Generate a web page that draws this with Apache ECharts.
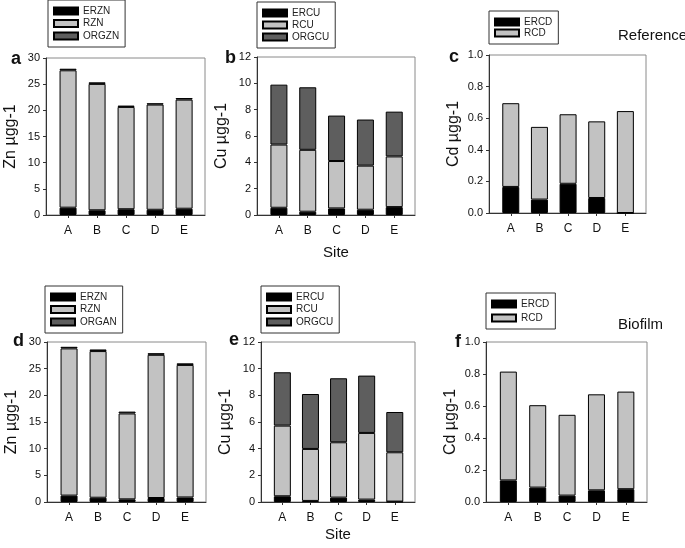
<!DOCTYPE html>
<html><head><meta charset="utf-8">
<script src="https://cdn.jsdelivr.net/npm/echarts@6/dist/echarts.min.js"></script>
<style>html,body{margin:0;padding:0;background:#fff}#c{width:685px;height:548px}</style>
</head><body><div id="c"></div>
<script>
const sites = ['A','B','C','D','E'];
// Reference
const refERZN = [1.4, 0.9, 1.1, 1.0, 1.2];
const refRZN = [26.25, 24.15, 19.55, 20.1, 20.85];
const refORGZN = [0.3, 0.3, 0.25, 0.25, 0.3];
const refERCU = [0.55, 0.25, 0.5, 0.4, 0.6];
const refRCU = [4.8, 4.7, 3.6, 3.35, 3.85];
const refORGCU = [4.55, 4.75, 3.45, 3.5, 3.4];
const refERCD = [0.165, 0.085, 0.185, 0.095, 0];
const refRCD = [0.53, 0.46, 0.44, 0.485, 0.645];
// Biofilm
const bioERZN = [1.2, 0.8, 0.5, 0.75, 0.85];
const bioRZN = [27.6, 27.5, 16.1, 26.85, 24.85];
const bioORGAN = [0.3, 0.3, 0.35, 0.3, 0.3];
const bioERCU = [0.43, 0.08, 0.33, 0.18, 0.03];
const bioRCU = [5.3, 3.9, 4.15, 5.0, 3.7];
const bioORGCU = [4.0, 4.12, 4.8, 4.3, 3.02];
const bioERCD = [0.135, 0.09, 0.04, 0.073, 0.08];
const bioRCD = [0.68, 0.515, 0.505, 0.6, 0.61];
// axis ticks
const znTicks = [0, 5, 10, 15, 20, 25, 30];
const cuTicks = [0, 2, 4, 6, 8, 10, 12];
const cdTicks = [0, 0.2, 0.4, 0.6, 0.8, 1.0];

const FONT = 'Liberation Sans, Arial, sans-serif';
const colors = {ER: '#000000', R: '#c2c2c2', ORG: '#5e5e5e'};
// frame spans from -0.76 to 4.72 in category-center units
const PADL = 0.26, PADR = 0.22;

const panels = [
  {letter:'a', grid:{left:46, top:58, width:159, height:157}, ticks:znTicks, yname:'Zn µgg-1', dec:0,
   series:[['ERZN',refERZN,'ER'],['RZN',refRZN,'R'],['ORGZN',refORGZN,'ORG']],
   legend:{left:48, top:0, gap:0.5}, letterPos:[11,50]},
  {letter:'b', grid:{left:257, top:57, width:158, height:158}, ticks:cuTicks, yname:'Cu µgg-1', dec:0,
   series:[['ERCU',refERCU,'ER'],['RCU',refRCU,'R'],['ORGCU',refORGCU,'ORG']],
   legend:{left:257, top:2, gap:0}, letterPos:[225,49], site:true},
  {letter:'c', grid:{left:489, top:55, width:157, height:158}, ticks:cdTicks, yname:'Cd µgg-1', dec:1,
   series:[['ERCD',refERCD,'ER'],['RCD',refRCD,'R']],
   legend:{left:489, top:11, gap:-1}, letterPos:[449,48]},
  {letter:'d', grid:{left:47, top:342, width:159, height:160}, ticks:znTicks, yname:'Zn µgg-1', dec:0,
   series:[['ERZN',bioERZN,'ER'],['RZN',bioRZN,'R'],['ORGAN',bioORGAN,'ORG']],
   legend:{left:45, top:286, gap:0.5}, letterPos:[13,332]},
  {letter:'e', grid:{left:261, top:342, width:154, height:160}, ticks:cuTicks, yname:'Cu µgg-1', dec:0,
   series:[['ERCU',bioERCU,'ER'],['RCU',bioRCU,'R'],['ORGCU',bioORGCU,'ORG']],
   legend:{left:261, top:286, gap:0.5}, letterPos:[229,331], site:true},
  {letter:'f', grid:{left:486, top:342, width:161, height:160}, ticks:cdTicks, yname:'Cd µgg-1', dec:1,
   series:[['ERCD',bioERCD,'ER'],['RCD',bioRCD,'R']],
   legend:{left:486, top:293, gap:2}, letterPos:[455,333]}
];

const grid = [], xAxis = [], yAxis = [], series = [], legend = [], title = [];
panels.forEach((p, i) => {
  const g = p.grid;
  const unit = g.width / (5 + PADL + PADR);
  const tk = p.ticks;
  const ymin = tk[0], ymax = tk[tk.length-1], yint = tk[1]-tk[0];
  // outer frame grid (index 2i)
  grid.push({left:g.left, top:g.top, width:g.width, height:g.height, show:true, borderColor:'#8a8a8a', borderWidth:1});
  // inner bar grid (index 2i+1)
  grid.push({left:g.left + PADL*unit, top:g.top, width:5*unit, height:g.height});
  xAxis.push({
    type:'value', gridIndex:2*i, min:0, max:1, show:true,
    splitLine:{show:false}, axisTick:{show:false}, axisLabel:{show:false},
    axisLine:{show:true, onZero:false, lineStyle:{color:'#333', width:1}},
    name: p.site ? 'Site' : '', nameLocation:'middle', nameGap: i === 1 ? 30 : 25,
    nameTextStyle:{fontSize:15, color:'#111', fontFamily:FONT}
  });
  xAxis.push({
    type:'category', gridIndex:2*i+1, data:sites, boundaryGap:true,
    axisLine:{show:false},
    axisTick:{show:true, alignWithLabel:true, length:3, lineStyle:{color:'#333'}},
    axisLabel:{margin:10, fontSize:12, color:'#111', fontFamily:FONT}
  });
  yAxis.push({
    type:'value', gridIndex:2*i, min:ymin, max:ymax, interval:yint,
    splitLine:{show:false},
    axisLine:{show:true, lineStyle:{color:'#333', width:1}},
    axisTick:{show:true, length:3, lineStyle:{color:'#333'}},
    axisLabel:{margin:6, fontSize:11, color:'#111', fontFamily:FONT, formatter: v => v.toFixed(p.dec)},
    name:p.yname, nameLocation:'middle', nameRotate:90, nameGap:27,
    nameTextStyle:{fontSize:16, color:'#111', fontFamily:FONT}
  });
  yAxis.push({type:'value', gridIndex:2*i+1, min:ymin, max:ymax, interval:yint, show:false, splitLine:{show:false}});
  p.series.forEach(([name, vals, kind]) => {
    series.push({
      type:'bar', name, xAxisIndex:2*i+1, yAxisIndex:2*i+1, stack:'s'+i, barWidth:17,
      itemStyle:{color:colors[kind], borderColor:'#000', borderWidth:1},
      data: vals, animation:false
    });
  });
  legend.push({
    left:p.legend.left, top:p.legend.top, orient:'vertical', selectedMode:false,
    data:p.series.map(s => s[0]), icon:'rect', itemWidth:24, itemHeight:7, itemGap:p.legend.gap,
    padding:[5,6,5,5], borderColor:'#333', borderWidth:1,
    textStyle:{fontSize:10, lineHeight:12, color:'#222', fontFamily:FONT}
  });
  title.push({text:p.letter, left:p.letterPos[0], top:p.letterPos[1], padding:0,
    textStyle:{fontSize:18, fontWeight:'bold', color:'#111', fontFamily:FONT}});
});
title.push({text:'Reference', left:618, top:28, padding:0, textStyle:{fontSize:15, fontWeight:'normal', color:'#111', fontFamily:FONT}});
title.push({text:'Biofilm', left:618, top:317, padding:0, textStyle:{fontSize:15, fontWeight:'normal', color:'#111', fontFamily:FONT}});

const chart = echarts.init(document.getElementById('c'), null, {renderer:'canvas'});
chart.setOption({animation:false, backgroundColor:'#fff', title, grid, xAxis, yAxis, series, legend});
</script></body></html>
